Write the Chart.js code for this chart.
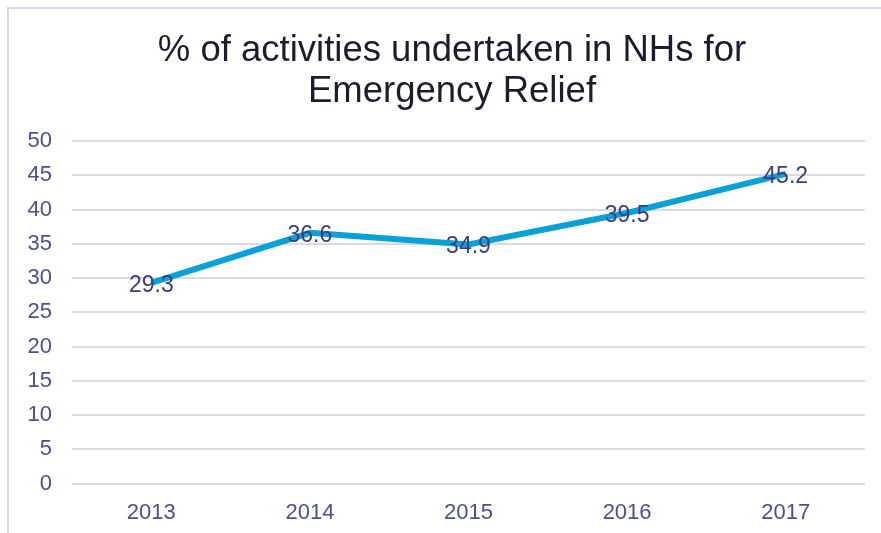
<!DOCTYPE html>
<html>
<head>
<meta charset="utf-8">
<script src="https://cdn.jsdelivr.net/npm/chart.js@4"></script>
<style>
  html, body { margin: 0; padding: 0; background: #fff; }
  #wrap { width: 881px; height: 533px; position: relative; }
</style>
</head>
<body>
<div id="wrap"><canvas id="chart"></canvas></div>
<script>
// chart data
const years = ['2013', '2014', '2015', '2016', '2017'];
const emergencyRelief = [29.3, 36.6, 34.9, 39.5, 45.2];
const titleLines = ['% of activities undertaken in NHs for', 'Emergency Relief'];

const FONT = '"Liberation Sans", Arial, sans-serif';

// light frame round the chart, like the slide box
const framePlugin = {
  id: 'frame',
  beforeDraw(chart) {
    const ctx = chart.ctx;
    ctx.save();
    ctx.strokeStyle = '#d9d9ec';
    ctx.lineWidth = 2;
    ctx.strokeRect(8, 8, chart.width + 20, chart.height + 20);
    ctx.restore();
  }
};

// title drawn by hand so it can sit off-centre like the original
const titlePlugin = {
  id: 'manualTitle',
  afterDraw(chart) {
    const ctx = chart.ctx;
    ctx.save();
    ctx.fillStyle = '#1c1c30';
    ctx.font = '36.5px ' + FONT;
    ctx.textAlign = 'center';
    ctx.textBaseline = 'alphabetic';
    titleLines.forEach((line, i) => ctx.fillText(line, 452, 61 + i * 41));
    ctx.restore();
  }
};

// value labels centred on each point
const valueLabels = {
  id: 'valueLabels',
  afterDatasetsDraw(chart) {
    const ctx = chart.ctx;
    const meta = chart.getDatasetMeta(0);
    ctx.save();
    ctx.fillStyle = '#3b3d7e';
    ctx.font = '23px ' + FONT;
    ctx.textAlign = 'center';
    ctx.textBaseline = 'alphabetic';
    meta.data.forEach((pt, i) => {
      ctx.fillText(emergencyRelief[i].toFixed(1), pt.x, pt.y + 9);
    });
    ctx.restore();
  }
};

new Chart(document.getElementById('chart'), {
  type: 'line',
  data: {
    labels: years,
    datasets: [{
      label: 'Emergency Relief',
      data: emergencyRelief,
      borderColor: '#0aa1d8',
      borderWidth: 6,
      pointRadius: 0,
      tension: 0,
      fill: false
    }]
  },
  options: {
    responsive: true,
    maintainAspectRatio: false,
    animation: false,
    layout: { padding: { top: 141, left: 0, right: 16, bottom: -9 } },
    scales: {
      x: {
        offset: true,
        grid: { display: false, drawTicks: false },
        border: { display: false },
        ticks: { color: '#4b4f94', font: { family: FONT, size: 22 }, padding: 16 }
      },
      y: {
        min: 0,
        max: 50,
        afterFit(scale) { scale.width = 72; },
        grid: { color: '#d9d9ea', lineWidth: 2, drawTicks: false },
        border: { display: false },
        ticks: { stepSize: 5, color: '#4b4f94', font: { family: FONT, size: 22 }, padding: 20 }
      }
    },
    plugins: {
      legend: { display: false },
      title: { display: false },
      tooltip: { enabled: false }
    }
  },
  plugins: [framePlugin, titlePlugin, valueLabels]
});
</script>
</body>
</html>
